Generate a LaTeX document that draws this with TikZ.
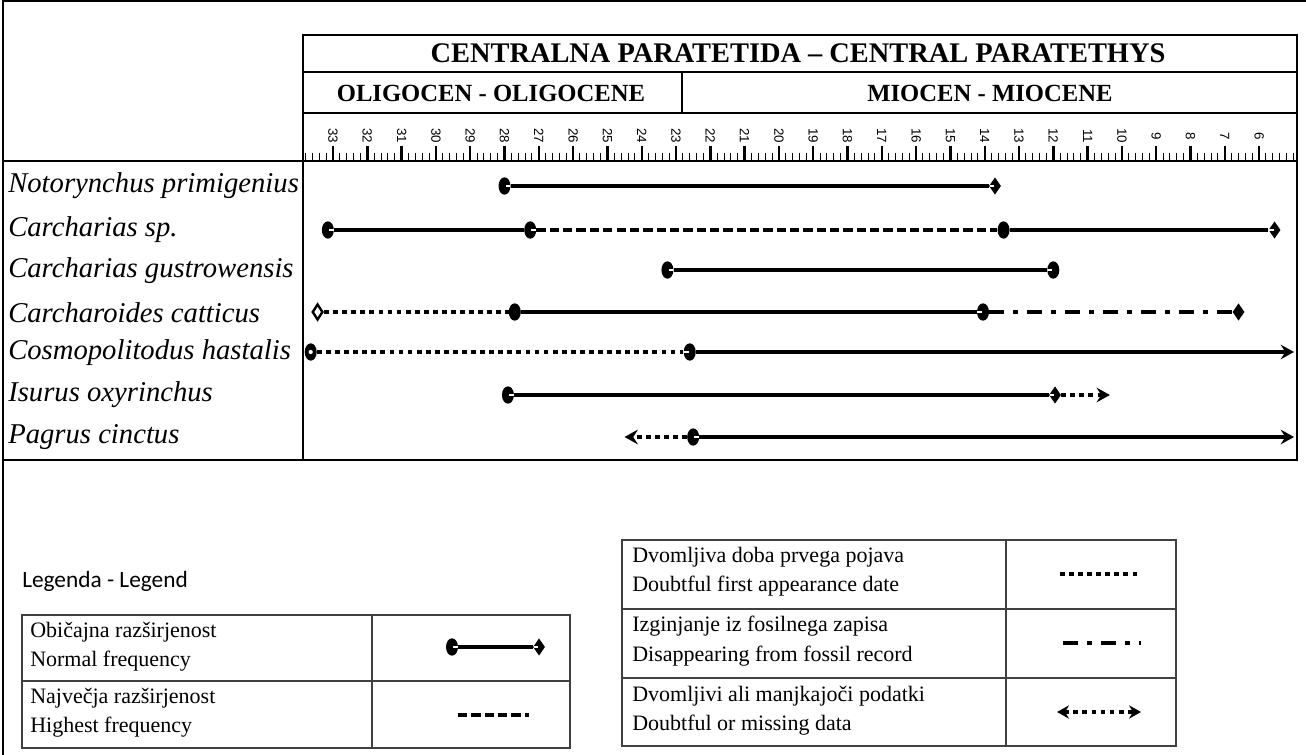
\documentclass[tikz,border=0pt]{standalone}
\usepackage{fontspec}
\setmainfont{Liberation Serif}
\setsansfont{Liberation Sans}
\newfontfamily\legfont{Carlito}
\usetikzlibrary{shapes.geometric,arrows.meta}

\begin{document}
\begin{tikzpicture}[
		x=0.75pt, y=-0.75pt,
		declare function={ma(\t)=333+(33-\t)*34.3;},
		framel/.style={line width=2.2pt},
		hrule/.style={line width=1.6pt},
		cell/.style={line width=0.9pt,black!75},
		taxon/.style={anchor=west,inner sep=0pt,font=\fontsize{21.5}{24}\selectfont\itshape},
		epoch/.style={font=\fontsize{18.5}{20}\selectfont\bfseries},
		legtext/.style={anchor=west,inner sep=0pt,align=left,font=\fontsize{16.5}{22}\selectfont},
		ball/.style={ellipse,fill=black,inner sep=0pt,minimum width=9pt,minimum height=13pt},
		ballr/.style={ball,path picture={\fill[white] ([xshift=0.8pt,yshift=-1.1pt]path picture bounding box.center) rectangle ++(4pt,2.2pt);}},
		balll/.style={ball,path picture={\fill[white] ([xshift=-4.8pt,yshift=-1.1pt]path picture bounding box.center) rectangle ++(4pt,2.2pt);}},
		ballo/.style={ball,path picture={\fill[white] (path picture bounding box.center) circle (1.6pt);}},
		gem/.style={diamond,fill=black,inner sep=0pt,minimum width=9pt,minimum height=13pt},
		geml/.style={gem,path picture={\fill[white] ([xshift=-4pt,yshift=-1.1pt]path picture bounding box.center) rectangle ++(3.4pt,2.2pt);}},
		gemo/.style={diamond,draw,fill=white,line width=1.8pt,inner sep=0pt,minimum width=8pt,minimum height=12pt},
		freqln/.style={line width=3pt},
		highln/.style={line width=3.6pt,dash pattern=on 7pt off 3pt},
		doubtln/.style={line width=3.6pt,dash pattern=on 3.6pt off 3.2pt},
		goneln/.style={line width=3.5pt,dash pattern=on 11pt off 7pt on 3.5pt off 7pt},
		arrowend/.style={-{Stealth[length=10pt,width=11pt,inset=3.5pt]}}
	]
	\useasboundingbox (0,0) rectangle (1306,755);
	\draw[line width=1.5pt] (3,755) -- (3,1) -- (1306,1);

	% header and chart frame
	\draw[framel] (303,460) -- (303,35) -- (1297,35) -- (1297,460) -- (3,460) -- (3,161) -- (1297,161);
	\draw[hrule] (303,72) -- (1297,72) (303,113) -- (1297,113) (682,72) -- (682,113);
	\node[font=\fontsize{21.3}{22}\selectfont\bfseries] (paratethys) at (798,53) {CENTRALNA PARATETIDA -- CENTRAL PARATETHYS};
	\node[epoch] (oligo) at (491,93) {OLIGOCEN - OLIGOCENE};
	\node[epoch] (mio) at (990,93) {MIOCEN - MIOCENE};

	% time scale
	\foreach \i in {0,...,144}
		\draw[line width=0.7pt] ({ma(33.8-0.2*\i)},153) -- ({ma(33.8-0.2*\i)},161);
	\foreach \k in {6,...,33} {
		\draw[line width=1.8pt] ({ma(\k)},146) -- ({ma(\k)},161);
		\node[rotate=-90,inner sep=0pt,font=\sffamily\fontsize{10}{10}\selectfont] (age\k) at ({ma(\k)},136) {\k};
	}

	% taxa
	\node[taxon] (s1) at (8,186) {Notorynchus primigenius};
	\node[taxon] (s2) at (8,230) {Carcharias sp.};
	\node[taxon] (s3) at (8,271) {Carcharias gustrowensis};
	\node[taxon] (s4) at (8,313) {Carcharoides catticus};
	\node[taxon] (s5) at (8,353) {Cosmopolitodus hastalis};
	\node[taxon] (s6) at (8,395) {Isurus oxyrinchus};
	\node[taxon] (s7) at (8,437) {Pagrus cinctus};

	% ranges
	\node[ballr] (r1a) at ({ma(28)},186) {};
	\node[geml] (r1b) at ({ma(13.7)},186) {};
	\draw[freqln] (r1a) -- (r1b);

	\node[ballr] (r2a) at ({ma(33.15)},230) {};
	\node[ballr] (r2b) at ({ma(27.25)},230) {};
	\node[ball] (r2c) at ({ma(13.45)},230) {};
	\node[geml] (r2d) at ({ma(5.55)},230) {};
	\draw[freqln] (r2a) -- (r2b);
	\draw[highln] (r2b) -- (r2c);
	\draw[freqln] (r2c) -- (r2d);

	\node[ballr] (r3a) at ({ma(23.25)},270) {};
	\node[balll] (r3b) at ({ma(12)},270) {};
	\draw[freqln] (r3a) -- (r3b);

	\node[gemo] (r4a) at ({ma(33.45)},312) {};
	\node[ball] (r4b) at ({ma(27.7)},312) {};
	\node[balll] (r4c) at ({ma(14.05)},312) {};
	\node[gem] (r4d) at ({ma(6.6)},312) {};
	\draw[doubtln] (r4a) -- (r4b);
	\draw[freqln] (r4b) -- (r4c);
	\draw[goneln] (r4c) -- (r4d);

	\node[ballo] (r5a) at ({ma(33.65)},352) {};
	\node[balll] (r5b) at ({ma(22.6)},352) {};
	\coordinate (r5c) at (1294,352);
	\draw[doubtln] (r5a) -- (r5b);
	\draw[freqln,arrowend] (r5b) -- (r5c);

	\node[ballr] (r6a) at ({ma(27.9)},395) {};
	\node[geml] (r6b) at ({ma(11.95)},395) {};
	\coordinate (r6c) at ({ma(10.35)},395);
	\draw[freqln] (r6a) -- (r6b);
	\draw[doubtln,arrowend] (r6b) -- (r6c);

	\coordinate (r7a) at ({ma(24.5)},437);
	\node[ballr] (r7b) at ({ma(22.5)},437) {};
	\coordinate (r7c) at (1294,437);
	\draw[doubtln,arrowend] (r7b) -- (r7a);
	\draw[freqln,arrowend] (r7b) -- (r7c);

	% legend
	\node[anchor=west,inner sep=0pt,font=\legfont\fontsize{17.5}{20}\selectfont] (legtitle) at (22,581) {Legenda - Legend};

	\draw[cell] (22,615) rectangle (570,748) (22,681) -- (570,681) (372,615) -- (372,748);
	\node[legtext] (k1) at (30,647) {Običajna razširjenost\\Normal frequency};
	\node[legtext] (k2) at (30,713) {Največja razširjenost\\Highest frequency};
	\node[ballr] (k1a) at (452,647) {};
	\node[geml] (k1b) at (539,647) {};
	\draw[freqln] (k1a) -- (k1b);
	\coordinate (k2a) at (458,715);
	\coordinate (k2b) at (529,715);
	\draw[highln] (k2a) -- (k2b);

	\draw[cell] (622,540) rectangle (1176,746) (622,609) -- (1176,609) (622,678) -- (1176,678) (1006,540) -- (1006,746);
	\node[legtext] (k3) at (632,572) {Dvomljiva doba prvega pojava\\Doubtful first appearance date};
	\node[legtext] (k4) at (632,641) {Izginjanje iz fosilnega zapisa\\Disappearing from fossil record};
	\node[legtext] (k5) at (632,711) {Dvomljivi ali manjkajoči podatki\\Doubtful or missing data};
	\coordinate (k3a) at (1060,574);
	\coordinate (k3b) at (1141,574);
	\draw[doubtln] (k3a) -- (k3b);
	\coordinate (k4a) at (1063,643);
	\coordinate (k4b) at (1141,643);
	\draw[goneln] (k4a) -- (k4b);
	\coordinate (k5a) at (1057,712);
	\coordinate (k5b) at (1141,712);
	\draw[doubtln,{Stealth[length=9pt,width=10pt,inset=3pt]}-{Stealth[length=9pt,width=10pt,inset=3pt]}] (k5a) -- (k5b);
\end{tikzpicture}
\end{document}
